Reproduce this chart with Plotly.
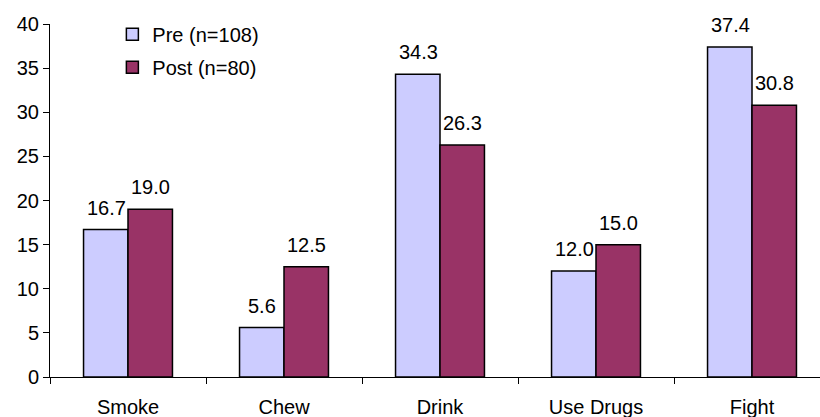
import plotly.graph_objects as go

categories = ["Smoke", "Chew", "Drink", "Use Drugs", "Fight"]
pre_values = [16.7, 5.6, 34.3, 12.0, 37.4]
post_values = [19.0, 12.5, 26.3, 15.0, 30.8]
series_names = ["Pre (n=108)", "Post (n=80)"]
y_ticks = [0, 5, 10, 15, 20, 25, 30, 35, 40]

PRE_COLOR = "#CCCCFF"
POST_COLOR = "#993366"
FONT = "Liberation Sans, Arial, sans-serif"
FS = 20

fig = go.Figure()
for i, (name, vals, color) in enumerate([(series_names[0], pre_values, PRE_COLOR),
                                         (series_names[1], post_values, POST_COLOR)]):
    fig.add_trace(go.Bar(
        x=categories, y=vals, name=name, legendgroup=f"g{i}",
        marker=dict(color=color, line=dict(color="black", width=1.5)),
    ))

# value labels above each bar
annotations = []
for vals, shift in [(pre_values, -22), (post_values, 22)]:
    for cat, v in zip(categories, vals):
        annotations.append(dict(
            x=cat, y=v, text=f"{v:.1f}", showarrow=False,
            xshift=shift, yshift=22, yanchor="middle",
            font=dict(family=FONT, size=FS, color="black"),
        ))

fig.update_layout(
    width=820, height=417,
    margin=dict(l=50, r=0, t=24, b=40),
    paper_bgcolor="white", plot_bgcolor="white",
    barmode="group", bargap=0.43, bargroupgap=0,
    font=dict(family=FONT, size=FS, color="black"),
    annotations=annotations,
    showlegend=True,
    legend=dict(x=0.081, y=1.026, xanchor="left", yanchor="top",
                bgcolor="rgba(0,0,0,0)", font=dict(size=FS),
                traceorder="grouped", tracegroupgap=4),
    xaxis=dict(
        type="category", range=[-0.5, 4.5 - 10 / 156],
        showline=True, linecolor="black", linewidth=1,
        ticks="outside", tickson="boundaries", ticklen=6, tickcolor="black",
        tickfont=dict(size=FS), ticklabelstandoff=12,
        showgrid=False, zeroline=False,
    ),
    yaxis=dict(
        range=[0, 40], tickvals=y_ticks,
        showline=True, linecolor="black", linewidth=1,
        ticks="outside", ticklen=6, tickcolor="black",
        tickfont=dict(size=FS), showgrid=False, zeroline=False,
    ),
)

fig.write_html("out.html")
